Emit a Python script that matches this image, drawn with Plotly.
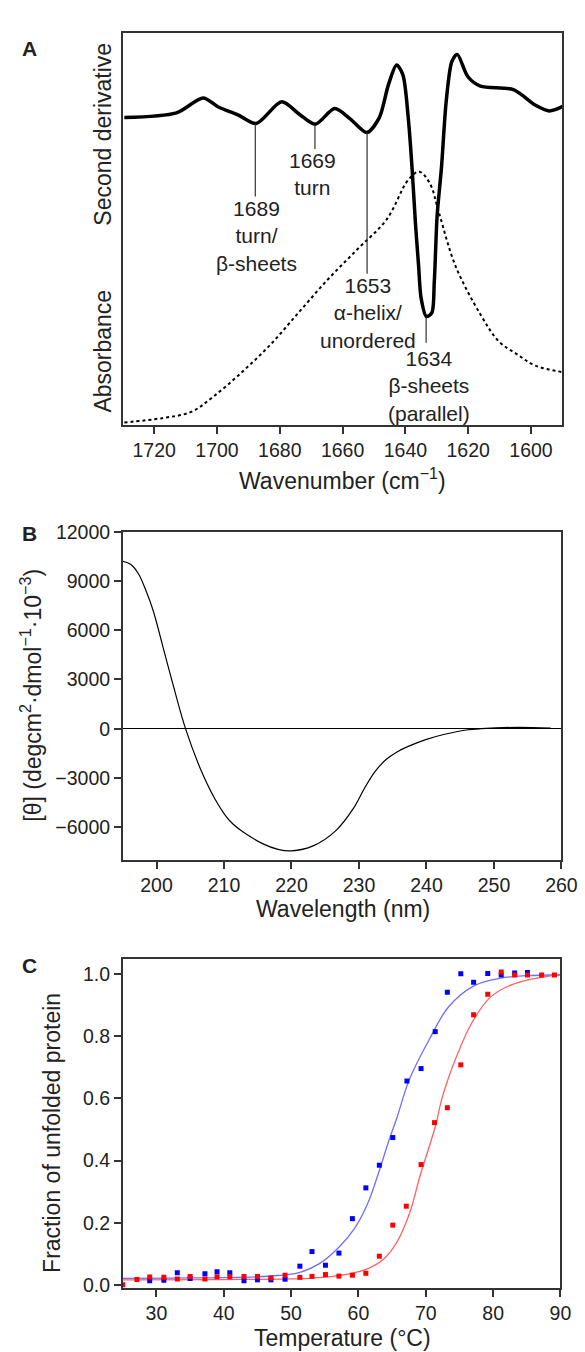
import plotly.graph_objects as go

W, H = 585, 1352
FONT = "Arial, Liberation Sans, sans-serif"

# ---------------- Panel A : FTIR ----------------
wn_deriv = [1729.5, 1712.9, 1704.4, 1699.6, 1693.3, 1687.5, 1679.4, 1673.7, 1668.7,
            1662.5, 1657.5, 1652.3, 1648.3, 1645.4, 1642.8, 1640.8, 1639.1, 1637.9,
            1636.8, 1635.8, 1635.0, 1633.3, 1631.6, 1630.8, 1629.9, 1628.5, 1627.0,
            1625.2, 1623.5, 1620.1, 1616.1, 1605.6, 1598.7, 1594.1, 1589.7]
deriv = [78.4, 79.6, 83.4, 81.1, 79.1, 76.9, 82.4, 79.2, 76.7,
         80.7, 78.0, 74.6, 78.4, 86.8, 91.8, 89.3, 78.4, 65.8,
         51.5, 40.7, 32.4, 27.7, 28.6, 36.5, 53.3, 65.8, 82.6,
         92.7, 94.5, 88.8, 86.4, 85.5, 81.6, 80.1, 81.3]

wn_abs = [1729.5, 1717.5, 1708.2, 1701.3, 1692.1, 1682.9, 1673.7, 1664.4, 1655.2,
          1646.0, 1639.1, 1635.6, 1632.2, 1629.3, 1624.1, 1616.0, 1610.3, 1604.5,
          1598.7, 1589.7]
absorb = [0.7, 1.8, 3.4, 7.2, 13.5, 20.6, 29.0, 37.4, 44.9,
          52.4, 62.5, 64.6, 61.6, 54.1, 40.7, 28.1, 21.4, 18.1,
          15.2, 13.5]

peak_pos = [1687.8, 1668.8, 1652.2, 1633.4]
peak_line_top = [76.9, 76.6, 74.6, 27.6]
peak_line_bottom = [58.3, 70.4, 38.6, 21.0]
peak_labels = ["1689<br>turn/<br>β-sheets", "1669<br>turn",
               "1653<br>α-helix/<br>unordered", "1634<br>β-sheets<br>(parallel)"]
label_x = [1687.3, 1669.6, 1652.0, 1632.5]
label_y = [48.2, 63.9, 28.6, 10.1]
A_ticks = [1720, 1700, 1680, 1660, 1640, 1620, 1600]

# ---------------- Panel B : CD ----------------
wavelength = [195.0, 196.2, 197.3, 198.4, 199.5, 201.1, 202.4, 204.3, 206.5,
              208.6, 210.3, 211.4, 213.0, 215.7, 218.0, 220.0, 223.2, 226.5, 229.2, 230.8, 232.4,
              234.1, 235.7, 237.3, 240.0, 242.7, 245.9, 248.1, 253.5, 258.4]
theta = [10200, 10000, 9450, 8450, 7200, 4760, 2760, 0, -2440,
         -4240, -5340, -5840, -6340, -7000, -7350, -7440, -7140, -6240, -4840, -3640, -2600,
         -1850, -1400, -1080, -650, -340, -80, 0, 80, 30]
B_yticks = [-6000, -3000, 0, 3000, 6000, 9000, 12000]
B_yticktext = ["\u22126000", "\u22123000", "0", "3000", "6000", "9000", "12000"]
B_xticks = [200, 210, 220, 230, 240, 250, 260]

# ---------------- Panel C : thermal unfolding ----------------
temp_blue = [29.0, 31.1, 33.1, 35.0, 37.2, 39.0, 40.9, 43.0, 45.0, 47.0, 49.1, 51.3,
             53.1, 55.1, 57.1, 59.1, 61.1, 63.1, 65.1, 67.2, 69.3, 71.4, 73.2, 75.2,
             77.1, 79.2, 81.2, 83.2, 85.1]
frac_blue = [0.013, 0.015, 0.039, 0.020, 0.036, 0.042, 0.039, 0.013, 0.016, 0.016, 0.018, 0.060,
             0.107, 0.063, 0.102, 0.213, 0.312, 0.385, 0.474, 0.656, 0.696, 0.815, 0.942, 1.001,
             0.974, 1.002, 0.997, 1.004, 1.005]
temp_red = [25.0, 27.1, 29.0, 31.1, 33.1, 35.0, 37.2, 39.0, 40.9, 43.0, 45.0, 47.0, 49.1,
            51.3, 53.1, 55.1, 57.1, 59.1, 61.1, 63.1, 65.1, 67.1, 69.3, 71.3, 73.2, 75.2,
            77.1, 79.2, 81.2, 83.2, 85.1, 87.2, 89.1]
frac_red = [0.0, 0.017, 0.025, 0.024, 0.019, 0.027, 0.019, 0.026, 0.026, 0.027, 0.027, 0.022, 0.031,
            0.024, 0.027, 0.033, 0.028, 0.031, 0.037, 0.092, 0.192, 0.253, 0.387, 0.522, 0.570, 0.708,
            0.869, 0.935, 1.007, 0.997, 0.997, 0.997, 0.997]
fit_temp_blue = [25, 35, 45, 48, 51, 54.2, 57.1, 59.5, 61.4, 63.1, 64.5, 65.7, 67.6, 70.5,
                 73.4, 77.2, 81.1, 85, 90]
fit_blue = [0.021, 0.022, 0.026, 0.030, 0.038, 0.068, 0.121, 0.184, 0.263, 0.368, 0.463, 0.537,
            0.663, 0.789, 0.895, 0.963, 0.987, 0.995, 0.998]
fit_temp_red = [25, 40, 50, 54.2, 59.0, 61.4, 63.8, 65.7, 67.6, 69.1, 70.4, 71.5, 72.4, 74.4,
                76.8, 79.6, 83.0, 88.75, 90]
fit_red = [0.016, 0.017, 0.019, 0.023, 0.037, 0.052, 0.084, 0.137, 0.231, 0.347, 0.437, 0.516,
           0.600, 0.726, 0.842, 0.926, 0.968, 0.995, 0.997]
C_xticks = [30, 40, 50, 60, 70, 80, 90]
C_yticks = [0.0, 0.2, 0.4, 0.6, 0.8, 1.0]

# ---------------- figure ----------------
fig = go.Figure()

fig.add_trace(go.Scatter(x=wn_abs, y=absorb, mode="lines",
                         line=dict(color="black", width=2, dash="dot", shape="spline"),
                         xaxis="x", yaxis="y", showlegend=False))
fig.add_trace(go.Scatter(x=wn_deriv, y=deriv, mode="lines",
                         line=dict(color="black", width=3.5, shape="spline", smoothing=0.8),
                         xaxis="x", yaxis="y", showlegend=False))
for p, t, b in zip(peak_pos, peak_line_top, peak_line_bottom):
    fig.add_trace(go.Scatter(x=[p, p], y=[t, b], mode="lines", line=dict(color="#333", width=1.2),
                             xaxis="x", yaxis="y", showlegend=False))

fig.add_trace(go.Scatter(x=wavelength, y=theta, mode="lines",
                         line=dict(color="black", width=1.2, shape="spline"),
                         xaxis="x2", yaxis="y2", showlegend=False))

fig.add_trace(go.Scatter(x=fit_temp_blue, y=fit_blue, mode="lines",
                         line=dict(color="#6f6fff", width=1.3, shape="spline"),
                         xaxis="x3", yaxis="y3", showlegend=False))
fig.add_trace(go.Scatter(x=fit_temp_red, y=fit_red, mode="lines",
                         line=dict(color="#ff6060", width=1.3, shape="spline"),
                         xaxis="x3", yaxis="y3", showlegend=False))
fig.add_trace(go.Scatter(x=temp_blue, y=frac_blue, mode="markers",
                         marker=dict(symbol="square", size=5, color="#0000ff"),
                         xaxis="x3", yaxis="y3", showlegend=False))
fig.add_trace(go.Scatter(x=temp_red, y=frac_red, mode="markers",
                         marker=dict(symbol="square", size=5, color="#ff0000"),
                         xaxis="x3", yaxis="y3", showlegend=False))


def xd(px):
    return px / W


def yd(py):
    return 1 - py / H


axis_common = dict(showgrid=False, zeroline=False, showline=True, mirror=True, linecolor="#333", linewidth=1.5,
                   ticks="outside", ticklen=7, tickcolor="#333", tickwidth=1.5,
                   tickfont=dict(family=FONT, size=19.5, color="#222"))

fig.update_layout(
    width=W, height=H, margin=dict(l=0, r=0, t=0, b=0),
    paper_bgcolor="white", plot_bgcolor="white",
    font=dict(family=FONT, color="#222"),
    xaxis=dict(axis_common, domain=[xd(118), xd(570)], range=[1730, 1590], anchor="y",
               tickvals=A_ticks),
    yaxis=dict(axis_common, domain=[yd(412), yd(14)], range=[0, 100], anchor="x",
               ticks="", showticklabels=False),
    xaxis2=dict(axis_common, domain=[xd(118), xd(569)], range=[195, 260], anchor="y2",
                tickvals=B_xticks),
    yaxis2=dict(axis_common, domain=[yd(853), yd(520)], range=[-8000, 12000], anchor="x2",
                tickvals=B_yticks, ticktext=B_yticktext,
                zeroline=True, zerolinecolor="black", zerolinewidth=1.2),
    xaxis3=dict(axis_common, domain=[xd(118), xd(568)], range=[25, 90], anchor="y3",
                tickvals=C_xticks),
    yaxis3=dict(axis_common, domain=[yd(1287), yd(953)], range=[-0.01, 1.05], anchor="x3",
                tickvals=C_yticks, tickformat=".1f"),
)

ann = []
for lx, ly, txt in zip(label_x, label_y, peak_labels):
    ann.append(dict(x=lx, y=ly, xref="x", yref="y", text=txt, showarrow=False,
                    xanchor="center", yanchor="middle", align="center",
                    font=dict(family=FONT, size=21, color="#222")))


def paper_text(text, px, py, size=23, angle=0, bold=False):
    t = f"<b>{text}</b>" if bold else text
    return dict(x=xd(px), y=yd(py), xref="paper", yref="paper", text=t, showarrow=False,
                xanchor="center", yanchor="middle", textangle=angle,
                font=dict(family=FONT, size=size, color="#222"))


ann += [
    paper_text("A", 22, 30, 21, bold=True),
    paper_text("B", 22, 522, 21, bold=True),
    paper_text("C", 22, 960, 21, bold=True),
    paper_text("Second derivative", 98, 117, 23, angle=-90),
    paper_text("Absorbance", 98, 337, 23, angle=-90),
    paper_text("Wavenumber (cm<sup>\u22121</sup>)", 344, 467, 23),
    paper_text("[\u03b8] (degcm<sup>2</sup>\u00b7dmol<sup>\u22121</sup>\u00b710<sup>\u22123</sup>)",
               24, 686, 23, angle=-90),
    paper_text("Wavelength (nm)", 344, 903, 23),
    paper_text("Fraction of unfolded protein", 45, 1130, 23, angle=-90),
    paper_text("Temperature (\u00b0C)", 344, 1338, 23),
]
fig.update_layout(annotations=ann)

fig.write_html("out.html")
